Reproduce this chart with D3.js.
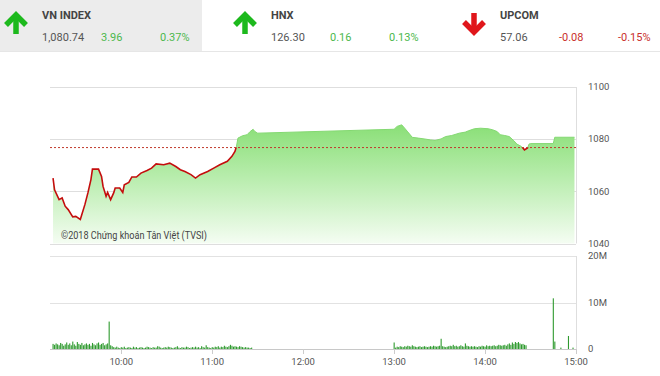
<!DOCTYPE html>
<html lang="en">
<head>
<meta charset="utf-8">
<script src="https://d3js.org/d3.v7.min.js"></script>
<style>
  body { margin: 0; background: #fff; }
  text { font-family: Roboto, "Noto Sans", sans-serif; }
</style>
</head>
<body>
<script>
    // Header tickers
    const tickNames = ["VN INDEX", "HNX", "UPCOM"];
    const tickPrices = ["1,080.74", "126.30", "57.06"];
    const tickChanges = ["3.96", "0.16", "-0.08"];
    const tickPercents = ["0.37%", "0.13%", "-0.15%"];

    // Intraday index (time, points)
    const idxTimes = ["9:15","9:16","9:19","9:21","9:23","9:25","9:28","9:30","9:33","9:34","9:36","9:38","9:40","9:41",
      "9:45","9:47","9:48","9:50","9:51","9:53","9:55","9:56","9:59","10:01","10:02","10:05","10:07","10:10","10:13",
      "10:17","10:20","10:23","10:28","10:32","10:36","10:39","10:42","10:46","10:49","10:52","10:57","11:01","11:05",
      "11:10","11:13","11:15","11:16","11:17","11:20","11:23","11:25","11:27","11:28","11:30",
      "13:00","13:02","13:05","13:07","13:09","13:12","13:16","13:21","13:24","13:27","13:31","13:34","13:38","13:43",
      "13:47","13:49","13:53","13:57","14:02","14:05","14:08","14:10","14:13","14:16","14:19","14:21","14:24","14:25",
      "14:26","14:28","14:29","14:30","14:45","14:46","14:59"];
    const idxValues = [1065.1,1060.6,1056.8,1057.5,1054.3,1053.0,1050.2,1050.4,1049.2,1051.1,1054.9,1059.4,1064.5,1068.5,
      1068.5,1065.7,1061.9,1058.1,1059.6,1056.8,1059.4,1061.3,1061.3,1059.6,1062.5,1063.4,1065.5,1065.5,1067.0,
      1068.0,1068.9,1070.5,1070.2,1070.8,1069.5,1068.3,1067.6,1066.4,1065.1,1066.4,1067.6,1068.9,1070.2,
      1071.5,1073.4,1075.3,1077.2,1080.4,1081.3,1081.7,1082.9,1083.8,1083.0,1082.3,
      1083.8,1084.9,1085.5,1084.2,1082.8,1080.7,1080.4,1080.0,1079.7,1079.5,1080.1,1081.0,1081.4,1082.3,
      1082.7,1083.2,1084.0,1084.2,1084.0,1083.6,1082.9,1081.7,1081.4,1081.0,1079.4,1078.1,1077.2,1076.6,
      1075.9,1076.6,1078.1,1078.3,1078.3,1080.74,1080.74];
    const refValue = 1076.78;
    const idxTicks = [1040, 1060, 1080, 1100];

    // Volume per minute (millions), morning from 9:15, afternoon from 13:00
    const volMorning = [1.1,0.9,1.2,1.0,0.8,1.3,1.1,0.7,1.0,1.4,0.9,1.2,0.8,1.6,1.0,0.7,1.5,1.1,0.9,1.3,0.8,1.0,1.2,0.9,
      1.1,0.7,1.3,1.0,0.8,1.2,1.4,0.9,1.1,1.3,0.8,1.0,1.2,5.9,0.8,0.6,0.4,0.3,0.5,0.3,0.2,0.4,0.3,0.5,0.2,0.3,
      0.4,0.3,0.2,0.5,0.3,0.4,0.2,0.3,0.4,0.3,0.2,0.3,0.5,0.4,0.3,0.2,0.4,0.3,0.3,0.6,0.5,0.3,0.2,0.3,0.4,0.3,
      0.5,0.4,0.3,0.2,0.3,0.4,0.6,0.3,0.2,0.4,0.3,0.3,0.5,0.4,0.2,0.3,0.4,0.3,0.5,0.3,0.4,0.2,0.6,0.4,0.3,0.8,
      0.4,0.3,0.2,0.4,0.3,0.5,0.4,0.6,0.3,0.5,0.4,0.7,0.5,0.4,0.6,0.9,0.7,0.5,0.6,0.5,0.4,0.6,0.5,0.4,0.3,0.4,
      0.3,0.3,0.2,0.3];
    const volAfternoon = [1.4,0.3,0.5,0.4,0.6,0.5,0.4,0.6,0.5,0.7,0.6,0.5,0.8,0.6,0.5,0.4,0.5,0.6,0.4,0.5,0.6,0.5,
      0.4,0.5,0.6,0.5,0.7,0.6,0.5,0.6,0.7,2.2,0.6,0.5,0.4,0.5,0.6,0.7,0.6,0.9,0.6,0.7,0.5,0.6,0.8,0.6,0.5,
      1.2,0.7,0.6,0.5,0.6,0.5,0.6,0.5,0.4,0.6,0.5,0.7,0.6,0.5,0.8,0.6,0.7,0.6,0.7,0.8,0.6,0.7,0.9,0.8,0.7,
      0.8,0.9,0.7,1.0,1.2,0.9,1.4,1.1,1.5,1.3,1.5,1.2,1.0,1.1,0.9,0.8];
    const volLateTimes = ["14:45","14:46","14:50","14:55","14:58"];
    const volLate = [10.9,1.6,0.3,2.8,0.3];
    const volTicks = [0, 10, 20];
    const timeTicks = ["10:00","11:00","12:00","13:00","14:00","15:00"];

    const parse = d3.timeParse("%H:%M");
    const idxData = idxTimes.map((t, i) => ({ t: parse(t), v: idxValues[i] }));
    const volData = [];
    volMorning.forEach((v, i) => volData.push({ t: d3.timeMinute.offset(parse("9:15"), i), v: v }));
    volAfternoon.forEach((v, i) => volData.push({ t: d3.timeMinute.offset(parse("13:00"), i), v: v }));
    volLateTimes.forEach((t, i) => volData.push({ t: parse(t), v: volLate[i] }));

    const svg = d3.select("body").append("svg")
      .attr("width", 660).attr("height", 376);

    // ---- header ----
    svg.append("rect").attr("x", 0).attr("y", 0).attr("width", 202).attr("height", 51).attr("fill", "#ececec");
    svg.append("line").attr("x1", 0).attr("x2", 660).attr("y1", 51.5).attr("y2", 51.5).attr("stroke", "#e6e6e6");
    tickNames.forEach((name, i) => {
      const ox = i * 229;
      const up = !tickChanges[i].startsWith("-");
      const col = up ? "#1db91d" : "#e0161b";
      const g = svg.append("g").attr("transform", `translate(${ox},0)`);
      const cx = 16;
      if (up) {
        g.append("path").attr("d", `M${cx-10},25L${cx},15L${cx+10},25`).attr("fill", "none").attr("stroke", col).attr("stroke-width", 5.5);
        g.append("line").attr("x1", cx).attr("x2", cx).attr("y1", 16).attr("y2", 34).attr("stroke", col).attr("stroke-width", 5.5);
      } else {
        g.append("path").attr("d", `M${cx-10},22L${cx},32L${cx+10},22`).attr("fill", "none").attr("stroke", col).attr("stroke-width", 5.5);
        g.append("line").attr("x1", cx).attr("x2", cx).attr("y1", 13).attr("y2", 31).attr("stroke", col).attr("stroke-width", 5.5);
      }
      const vcol = up ? "#4cb84c" : "#c9302c";
      g.append("text").attr("x", 42).attr("y", 19).text(name)
        .attr("font-size", 11).attr("font-weight", "bold").attr("fill", "#444");
      g.append("text").attr("x", 42).attr("y", 41).text(tickPrices[i]).attr("font-size", 11).attr("fill", "#555");
      g.append("text").attr("x", 101).attr("y", 41).text(tickChanges[i]).attr("font-size", 11).attr("fill", vcol);
      g.append("text").attr("x", 160).attr("y", 41).text(tickPercents[i]).attr("font-size", 11).attr("fill", vcol);
    });

    // ---- scales ----
    const x = d3.scaleTime().domain([parse("9:13"), parse("15:00")]).range([50, 576]);
    const y = d3.scaleLinear().domain([1040, 1100]).range([243.5, 87]);
    const yv = d3.scaleLinear().domain([0, 20]).range([349, 256]);
    const left = 50, right = 576;

    // ---- index panel ----
    const defs = svg.append("defs");
    const grad = defs.append("linearGradient").attr("id", "fillGrad")
      .attr("gradientUnits", "userSpaceOnUse").attr("x1", 0).attr("x2", 0).attr("y1", 125).attr("y2", 244);
    grad.append("stop").attr("offset", "0%").attr("stop-color", "#8adf77");
    grad.append("stop").attr("offset", "45%").attr("stop-color", "#b9edae");
    grad.append("stop").attr("offset", "100%").attr("stop-color", "#f5fdf3");
    defs.append("clipPath").attr("id", "above").append("rect")
      .attr("x", 0).attr("y", 0).attr("width", 660).attr("height", y(refValue));
    defs.append("clipPath").attr("id", "below").append("rect")
      .attr("x", 0).attr("y", y(refValue)).attr("width", 660).attr("height", 244 - y(refValue));

    // grid
    svg.append("g").selectAll("line").data(idxTicks).join("line")
      .attr("x1", left).attr("x2", right).attr("y1", d => Math.round(y(d)) + 0.5).attr("y2", d => Math.round(y(d)) + 0.5)
      .attr("stroke", "#dedede");
    svg.append("line").attr("x1", right + 0.5).attr("x2", right + 0.5).attr("y1", y(1100)).attr("y2", y(1040))
      .attr("stroke", "#dedede");

    svg.append("path").datum(idxData)
      .attr("fill", "url(#fillGrad)")
      .attr("d", d3.area().x(d => x(d.t)).y0(y(1040)).y1(d => y(d.v)));
    svg.append("path").datum(idxData)
      .attr("fill", "none").attr("stroke", "#84d872").attr("stroke-width", 1).attr("clip-path", "url(#above)")
      .attr("d", d3.line().x(d => x(d.t)).y(d => y(d.v)));
    svg.append("path").datum(idxData)
      .attr("fill", "none").attr("stroke", "#c40d0d").attr("stroke-width", 1.6).attr("clip-path", "url(#below)")
      .attr("d", d3.line().x(d => x(d.t)).y(d => y(d.v)));

    // reference line
    svg.append("line").attr("x1", left).attr("x2", right).attr("y1", y(refValue)).attr("y2", y(refValue))
      .attr("stroke", "#c0392b").attr("stroke-width", 1).attr("stroke-dasharray", "2,2");

    svg.append("text").attr("x", 61).attr("y", 239).text("©2018 Chứng khoán Tân Việt (TVSI)")
      .attr("font-size", 10.5).attr("fill", "#444")
      .attr("textLength", 146).attr("lengthAdjust", "spacingAndGlyphs");

    // right axis labels
    svg.append("g").selectAll("text").data(idxTicks).join("text")
      .attr("x", 588).attr("y", d => y(d)).attr("dy", "0.35em")
      .attr("font-size", 9.5).attr("fill", "#555").text(d => d);

    // ---- volume panel ----
    svg.append("g").selectAll("line").data([10, 20]).join("line")
      .attr("x1", left).attr("x2", right).attr("y1", d => Math.round(yv(d)) + 0.5).attr("y2", d => Math.round(yv(d)) + 0.5)
      .attr("stroke", "#e2e2e2");
    svg.append("line").attr("x1", right + 0.5).attr("x2", right + 0.5).attr("y1", yv(20)).attr("y2", yv(0))
      .attr("stroke", "#dedede");

    svg.append("g").selectAll("rect").data(volData).join("rect")
      .attr("x", d => x(d.t) - 0.5).attr("width", 1.1)
      .attr("y", d => yv(d.v)).attr("height", d => yv(0) - yv(d.v))
      .attr("fill", "#2f9a2f");

    svg.append("line").attr("x1", left).attr("x2", right + 1).attr("y1", yv(0) + 0.5).attr("y2", yv(0) + 0.5)
      .attr("stroke", "#c8c8c8");

    svg.append("g").selectAll("text").data(volTicks).join("text")
      .attr("x", 588).attr("y", d => yv(d)).attr("dy", "0.35em")
      .attr("font-size", 9.5).attr("fill", "#555").text(d => d === 0 ? "0" : d + "M");

    // time axis
    const xAxis = svg.append("g").attr("transform", `translate(0,${yv(0)})`);
    xAxis.selectAll("line").data(timeTicks).join("line")
      .attr("x1", d => Math.round(x(parse(d))) + 0.5).attr("x2", d => Math.round(x(parse(d))) + 0.5)
      .attr("y1", 0).attr("y2", 5).attr("stroke", "#ccc");
    xAxis.selectAll("text").data(timeTicks).join("text")
      .attr("x", d => x(parse(d))).attr("y", 13).attr("dy", "0.35em")
      .attr("text-anchor", "middle").attr("font-size", 9.5).attr("fill", "#555").text(d => d);
</script>
</body>
</html>
